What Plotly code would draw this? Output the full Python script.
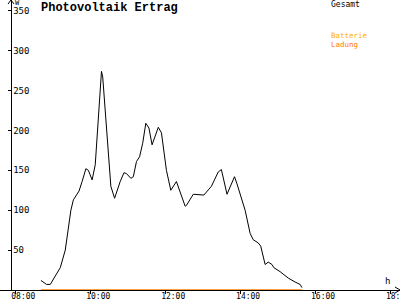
import plotly.graph_objects as go

DAY = "2024-06-01 "

# Gesamt (total PV output, W)
gesamt_times = ["08:41", "08:50", "08:56", "09:04", "09:12", "09:20", "09:25", "09:29",
                "09:33", "09:42", "09:47", "09:53", "09:57", "10:03", "10:08", "10:18",
                "10:20", "10:33", "10:39", "10:43", "10:48", "10:54", "10:58", "11:05",
                "11:09", "11:14", "11:19", "11:24", "11:29", "11:34", "11:39", "11:49",
                "11:54", "12:02", "12:09", "12:18", "12:32", "12:34", "12:45", "13:02",
                "13:14", "13:25", "13:30", "13:39", "13:51", "13:55", "14:08", "14:16",
                "14:21", "14:29", "14:33", "14:40", "14:45", "14:51", "14:54", "15:04",
                "15:17", "15:28", "15:36", "15:39"]
gesamt_values = [12, 7, 7, 17, 28, 50, 75, 100,
                 113, 124, 136, 152, 150, 138, 157, 274,
                 267, 130, 115, 125, 136, 147, 146, 140,
                 142, 161, 167, 184, 209, 203, 182, 204,
                 197, 150, 125, 136, 105, 106, 120, 119,
                 130, 148, 151, 120, 142, 133, 100, 71,
                 63, 59, 55, 32, 35, 32, 28, 23,
                 15, 10, 7, 3]

# Batterie Ladung (battery charge, W)
ladung_times = ["08:41", "15:39"]
ladung_values = [0, 0]

x_tick_labels = ["08:00", "10:00", "12:00", "14:00", "16:00", "18:00"]
y_tick_values = [50, 100, 150, 200, 250, 300, 350]

MONO = "DejaVu Sans Mono"
PH = 290  # plot-area height in px


def py(p):
    """pixel row (from top) -> paper y"""
    return (PH - p) / PH


fig = go.Figure()
fig.add_trace(go.Scatter(
    x=[DAY + t for t in gesamt_times], y=gesamt_values, mode="lines",
    line=dict(color="black", width=1), name="Gesamt", showlegend=False))
fig.add_trace(go.Scatter(
    x=[DAY + t for t in ladung_times], y=ladung_values, mode="lines",
    line=dict(color="#FF8000", width=1.5), name="Ladung", showlegend=False,
    cliponaxis=False))

fig.update_layout(
    width=400, height=300,
    margin=dict(l=0, r=0, t=0, b=10, autoexpand=False),
    paper_bgcolor="white", plot_bgcolor="white",
    showlegend=False,
    xaxis=dict(
        type="date",
        range=[DAY + "07:35:30", DAY + "18:16:00"],
        tickvals=[DAY + t for t in x_tick_labels],
        ticktext=x_tick_labels,
        showgrid=False, zeroline=False,
        showline=True, linecolor="black", linewidth=1,
        ticks="outside", ticklen=3, tickcolor="black", tickwidth=1,
        tickfont=dict(family=MONO, size=8, color="black"),
        ticklabelshift=8, ticklabelstandoff=-5,
        ticklabeloverflow="allow",
        automargin=False,
        layer="below traces",
    ),
    yaxis=dict(
        range=[0, 363.5],
        tickvals=y_tick_values,
        ticktext=[str(v) for v in y_tick_values],
        anchor="free", position=11 / 400,
        showgrid=False, zeroline=False,
        showline=True, linecolor="black", linewidth=1,
        ticks="outside", ticklen=3, tickcolor="black", tickwidth=1,
        ticklabelposition="inside",
        ticklabeloverflow="allow",
        automargin=False,
        tickfont=dict(family=MONO, size=9, color="black"),
    ),
    font=dict(family=MONO, size=9, color="black"),
)

# title and labels
fig.add_annotation(text="<b>Photovoltaik Ertrag</b>", xref="paper", yref="paper",
                   x=39 / 400, y=py(8), xanchor="left", yanchor="middle",
                   showarrow=False, font=dict(family="Liberation Mono", size=12, color="black"))
fig.add_annotation(text="W", xref="paper", yref="paper",
                   x=13 / 400, y=py(3), xanchor="left", yanchor="middle",
                   showarrow=False, font=dict(family=MONO, size=7, color="black"))
fig.add_annotation(text="h", xref="paper", yref="paper",
                   x=387 / 400, y=py(281), xanchor="center", yanchor="middle",
                   showarrow=False, font=dict(family=MONO, size=9, color="black"))
fig.add_annotation(text="Gesamt", xref="paper", yref="paper",
                   x=329 / 400, y=py(4), xanchor="left", yanchor="middle",
                   showarrow=False, font=dict(family=MONO, size=8, color="black"))
fig.add_annotation(text="Batterie", xref="paper", yref="paper",
                   x=329 / 400, y=py(35), xanchor="left", yanchor="middle",
                   showarrow=False, font=dict(family=MONO, size=7.5, color="#FFB000"))
fig.add_annotation(text="Ladung", xref="paper", yref="paper",
                   x=329 / 400, y=py(45), xanchor="left", yanchor="middle",
                   showarrow=False, font=dict(family=MONO, size=7.5, color="#FF8000"))

# axis arrowheads (decoration)
fig.add_shape(type="path", xref="paper", yref="paper",
              path=f"M {8/400} {py(4)} L {11/400} {py(0)} L {14/400} {py(4)}",
              line=dict(color="black", width=1))
fig.add_shape(type="path", xref="paper", yref="paper",
              path=f"M {395/400} {3/PH} L {1} {0} L {395/400} {-3/PH}",
              line=dict(color="black", width=1))

fig.write_html("out.html")
